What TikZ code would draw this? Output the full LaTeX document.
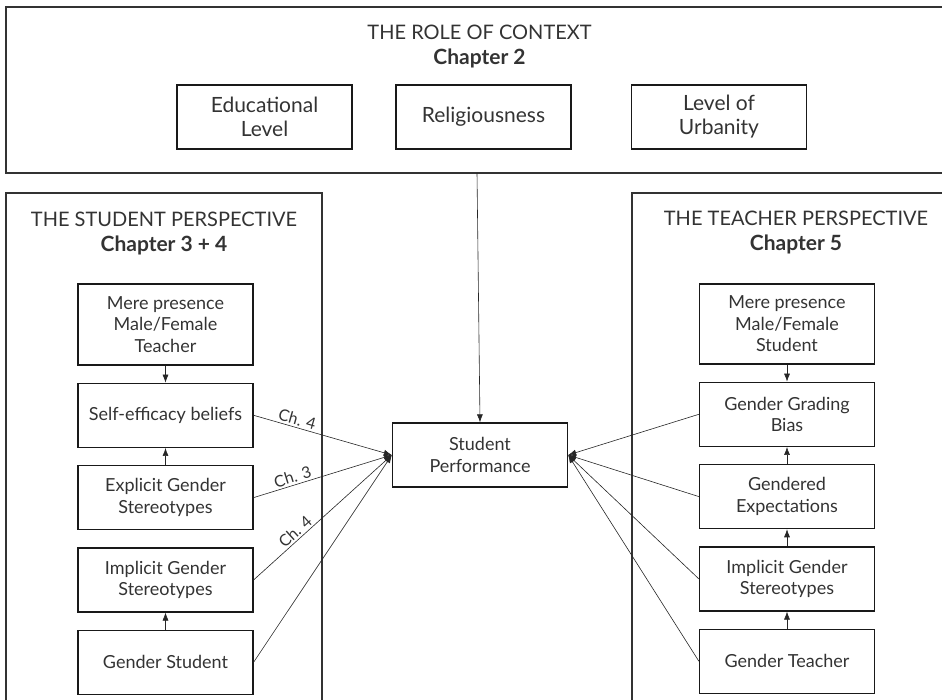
\documentclass[tikz,border=0pt]{standalone}
\usepackage{fontspec}
\setmainfont{Lato}
\usetikzlibrary{arrows.meta,positioning}

\definecolor{ink}{HTML}{333333}

\tikzset{
  box/.style={draw=black!90,line width=1.3pt,text=ink,align=center,minimum width=175pt,minimum height=64pt,inner sep=2pt,font=\fontsize{18}{21.5}\selectfont},
  ctxbox/.style={box,font=\fontsize{21}{24}\selectfont},
  frame/.style={draw=black!80,line width=1.5pt},
  heading/.style={align=center,text=ink,font=\fontsize{20}{25}\selectfont},
  link/.style={draw=black!85,line width=0.6pt,-{Latex[length=8pt,width=6pt]}},
  chlab/.style={text=ink,font=\fontsize{16}{18}\selectfont,sloped,above,inner sep=2pt}
}

\begin{document}
\begin{tikzpicture}[x=1pt,y=-1pt,node distance=17pt,>=Latex]
\useasboundingbox (0,0) rectangle (942,700);

% outer frames
\draw[frame] (6,7) rectangle (960,173);
\draw[frame] (6,193) rectangle (322,720);
\draw[frame] (632,193) rectangle (960,720);

% context
\node[heading] (ctxttl) at (479.5,47) {THE ROLE OF CONTEXT\\{\fontsize{21}{25}\selectfont\bfseries Chapter 2}};
\node[ctxbox] (edu) at (264.5,117) {Educational\\Level};
\node[ctxbox] (rel) at (483.5,117) {Religiousness};
\node[ctxbox] (urb) at (719,117) {Level of\\Urbanity};
\coordinate (ctxout) at (477,173);

% student perspective
\node[heading] (stuttl) at (164,234) {THE STUDENT PERSPECTIVE\\{\fontsize{21}{25}\selectfont\bfseries Chapter 3 + 4}};
\node[box,minimum height=81pt] (mereS) at (165.5,324.5) {Mere presence\\Male/Female\\Teacher};
\node[box,below=of mereS] (self) {Self-efficacy beliefs};
\node[box,below=of self] (explS) {Explicit Gender\\Stereotypes};
\node[box,below=of explS] (implS) {Implicit Gender\\Stereotypes};
\node[box,below=of implS] (gendS) {Gender Student};

% teacher perspective
\node[heading] (teattl) at (796,233) {THE TEACHER PERSPECTIVE\\{\fontsize{21}{25}\selectfont\bfseries Chapter 5}};
\node[box,minimum height=80pt] (mereT) at (787,324) {Mere presence\\Male/Female\\Student};
\node[box,below=of mereT] (grad) {Gender Grading\\Bias};
\node[box,below=of grad] (expT) {Gendered\\Expectations};
\node[box,below=of expT] (implT) {Implicit Gender\\Stereotypes};
\node[box,below=of implT] (gendT) {Gender Teacher};

% outcome
\node[box] (perf) at (480,455) {Student\\Performance};

\draw[link] (ctxout) -- (perf.north);

\draw[link] (mereS) -- (self);
\draw[link] (explS) -- (self);
\draw[link] (gendS) -- (implS);
\draw[link] (mereT) -- (grad);
\draw[link] (expT) -- (grad);
\draw[link] (implT) -- (expT);
\draw[link] (gendT) -- (implT);

\draw[link] (self.east) -- (perf.west) node[chlab,pos=.3] {Ch. 4};
\draw[link] (explS.east) -- (perf.west) node[chlab,pos=.3] {Ch. 3};
\draw[link] (implS.east) -- (perf.west) node[chlab,pos=.34] {Ch. 4};
\draw[link] (gendS.east) -- (perf.west);

\draw[link] (grad.west) -- (perf.east);
\draw[link] (expT.west) -- (perf.east);
\draw[link] (implT.west) -- (perf.east);
\draw[link] (gendT.west) -- (perf.east);
\end{tikzpicture}
\end{document}
